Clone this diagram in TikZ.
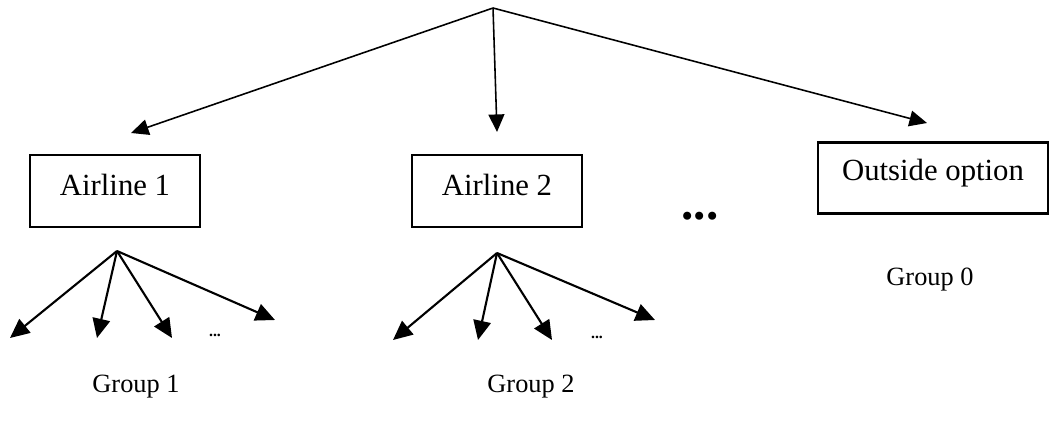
\documentclass[tikz,border=0pt]{standalone}
\usepackage{fontspec}
\setmainfont{Liberation Serif}
\usetikzlibrary{arrows.meta}

\tikzset{
	firmbox/.style={draw, line width=1.2pt, minimum width=3.4cm, minimum height=1.44cm, inner sep=0pt, text height=12pt, text depth=7pt, font=\fontsize{17.5}{20}\selectfont},
	toparrow/.style={line width=0.9pt, -{Triangle[length=10pt,width=9pt]}},
	fanarrow/.style={line width=1.2pt, -{Triangle[length=11pt,width=10pt]}},
	grouplabel/.style={font=\fontsize{15}{18}\selectfont}
}

\begin{document}
\begin{tikzpicture}[x=0.02cm, y=-0.02cm]
	\useasboundingbox (0,0) rectangle (1050,423);
	% choice nodes
	\node[firmbox] (air1) at (115,191) {Airline 1};
	\node[firmbox] (air2) at (497,191) {Airline 2};
	\node[firmbox, minimum width=4.6cm, minimum height=1.42cm, text depth=9pt] (outside) at (933,178) {Outside option};
	\node[font=\fontsize{28}{30}\selectfont\bfseries] (moredots) at (700,216) {...};
	\node[grouplabel] (group0) at (930,280) {Group 0};
	\node[grouplabel] (group1) at (136,387) {Group 1};
	\node[grouplabel] (group2) at (531,387) {Group 2};
	% top level
	\coordinate (root) at (493,8);
	\coordinate (tip1) at (131,133);
	\coordinate (tip2) at (497,132);
	\coordinate (tip0) at (927,123);
	\draw[toparrow] (root) -- (tip1);
	\draw[toparrow] (root) -- (tip2);
	\draw[toparrow] (root) -- (tip0);
	% fan below airline 1
	\coordinate (fan1) at (117,251);
	\coordinate (a1) at (10,338);
	\coordinate (a2) at (97,338);
	\coordinate (a3) at (172,338);
	\coordinate (a4) at (275,320);
	\draw[fanarrow] (fan1) -- (a1);
	\draw[fanarrow] (fan1) -- (a2);
	\draw[fanarrow] (fan1) -- (a3);
	\draw[fanarrow] (fan1) -- (a4);
	\node[font=\fontsize{9}{10}\selectfont\bfseries] (dots1) at (215,335) {...};
	% fan below airline 2
	\coordinate (fan2) at (497,253);
	\coordinate (b1) at (393,340);
	\coordinate (b2) at (478,340);
	\coordinate (b3) at (552,340);
	\coordinate (b4) at (655,320);
	\draw[fanarrow] (fan2) -- (b1);
	\draw[fanarrow] (fan2) -- (b2);
	\draw[fanarrow] (fan2) -- (b3);
	\draw[fanarrow] (fan2) -- (b4);
	\node[font=\fontsize{9}{10}\selectfont\bfseries] (dots2) at (597,337) {...};
\end{tikzpicture}
\end{document}
